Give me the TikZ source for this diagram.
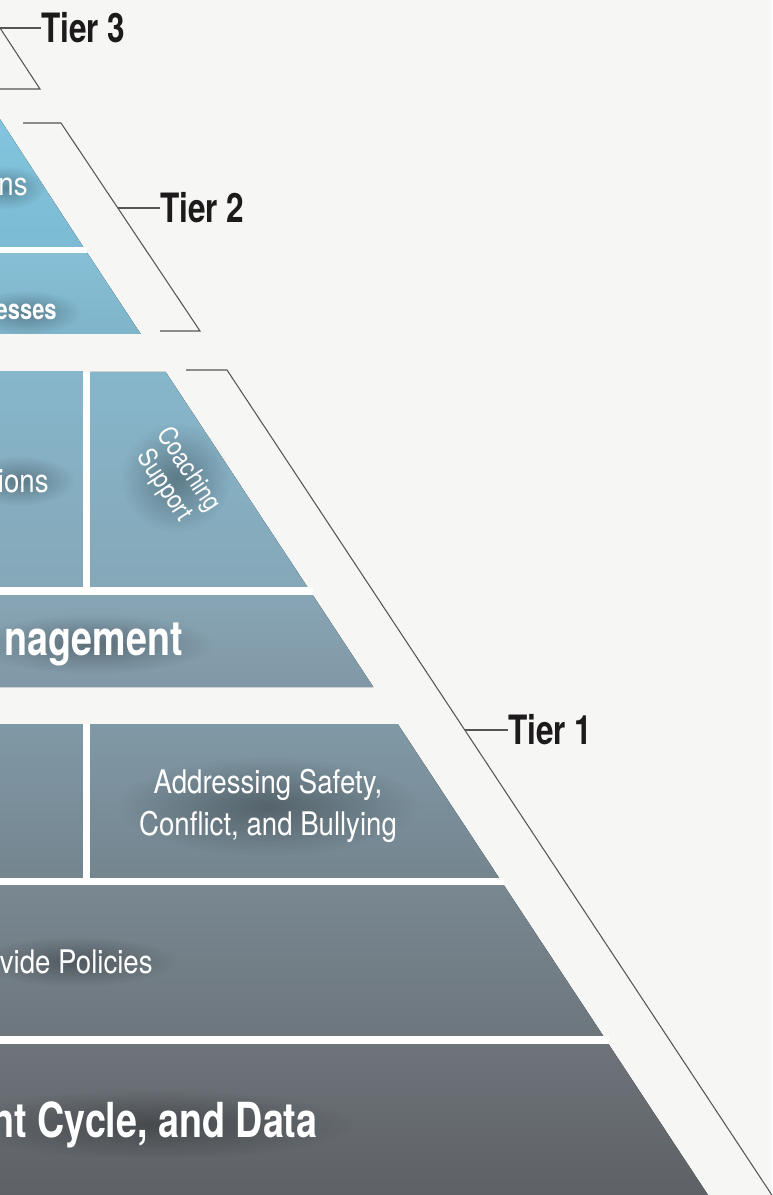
\documentclass[tikz,border=0pt]{standalone}
\usepackage{fontspec}
\setmainfont{TeX Gyre Heros}[FakeStretch=0.85]
\newfontfamily\headfont{TeX Gyre Heros}[FakeStretch=0.78]
\usetikzlibrary{fadings}

\definecolor{bgpage}{HTML}{F6F6F4}
\definecolor{lineink}{HTML}{555555}
\definecolor{tierink}{HTML}{1C1A1B}
\definecolor{aTop}{HTML}{83C6DF}
\definecolor{aBot}{HTML}{7DBBD4}
\definecolor{bTop}{HTML}{86BFD6}
\definecolor{bBot}{HTML}{7FB4CA}
\definecolor{cTop}{HTML}{86B6CB}
\definecolor{cBot}{HTML}{85A8B8}
\definecolor{dTop}{HTML}{87A5B5}
\definecolor{dBot}{HTML}{8198A6}
\definecolor{eTop}{HTML}{8099A6}
\definecolor{eBot}{HTML}{74858F}
\definecolor{fTop}{HTML}{798891}
\definecolor{fBot}{HTML}{6D767D}
\definecolor{gTop}{HTML}{6D747A}
\definecolor{gBot}{HTML}{5E6165}

\tikzfading[name=halofade, inner color=transparent!0, outer color=transparent!100]
\pgfdeclarelayer{base}
\pgfdeclarelayer{glow}
\pgfsetlayers{base,glow,main}

\begin{document}
\begin{tikzpicture}[x=0.02cm, y=-0.02cm,
	layertxt/.style={text=white, inner sep=0pt, font=\fontsize{18.5}{24}\selectfont},
	layerhead/.style={text=white, inner sep=0pt, font=\headfont\bfseries\fontsize{27.5}{30}\selectfont},
	layersub/.style={text=white, inner sep=0pt, font=\headfont\bfseries\fontsize{16}{18}\selectfont},
	tierlbl/.style={text=tierink, inner sep=0pt, anchor=west, font=\headfont\bfseries\fontsize{23}{26}\selectfont},
	bracket/.style={draw=lineink, line width=0.6pt},
	halo/.style={fill=black, opacity=0.3, path fading=halofade},
	sep/.style={fill=white}]

	\useasboundingbox (0,0) rectangle (772,1195);

	\begin{pgfonlayer}{base}
	\fill[bgpage] (0,0) rectangle (772,1195);
	\fill[top color=aTop, bottom color=aBot] (-60,100) -- (-12.5,100) -- (83.3,247) -- (-60,247) -- cycle;
	\fill[top color=bTop, bottom color=bBot] (-60,253) -- (87.3,253) -- (140.7,334) -- (-60,334) -- cycle;
	\fill[top color=cTop, bottom color=cBot] (-60,372) -- (83,372) -- (83,587) -- (-60,587) -- cycle;
	\fill[top color=cTop, bottom color=cBot] (90,372) -- (165.7,372) -- (307.4,587) -- (90,587) -- cycle;
	\fill[top color=dTop, bottom color=dBot] (-60,595) -- (312.7,595) -- (373.3,687) -- (-60,687) -- cycle;
	\fill[top color=eTop, bottom color=eBot] (-60,724) -- (83,724) -- (83,878) -- (-60,878) -- cycle;
	\fill[top color=eTop, bottom color=eBot] (90,724) -- (397.7,724) -- (499.1,878) -- (90,878) -- cycle;
	\fill[top color=fTop, bottom color=fBot] (-60,885) -- (503.7,885) -- (603.3,1036) -- (-60,1036) -- cycle;
	\fill[top color=gTop, bottom color=gBot] (-60,1044) -- (608.5,1044) -- (708,1195) -- (-60,1195) -- cycle;
	\fill[sep] (-60,247) rectangle (87.3,253);
	\fill[sep] (-60,587) rectangle (312.7,595);
	\fill[sep] (83,372) rectangle (90,587);
	\fill[sep] (-60,878) rectangle (503.7,885);
	\fill[sep] (83,724) rectangle (90,878);
	\fill[sep] (-60,1036) rectangle (608.5,1044);
	\end{pgfonlayer}

	\node[layertxt, anchor=base east] (interv) at (28,196) {ons};
	\node[layersub, anchor=base east] (proc) at (57,320) {esses};
	\node[layertxt, anchor=base east] (strat) at (49,492) {tions};
	\node[layertxt, align=center, rotate=-56.6, font=\fontsize{15}{16.5}\selectfont] (coach) at (176,478) {Coaching\\Support};
	\node[layerhead, anchor=base east] (mgmt) at (183,655) {nagement};
	\node[layertxt, align=center] (safety) at (268,806) {Addressing Safety,\\Conflict, and Bullying};
	\node[layertxt, anchor=base east] (policy) at (153,973) {vide Policies};
	\node[layerhead, anchor=base east] (cycle) at (318,1137) {nt Cycle, and Data};

	\begin{pgfonlayer}{glow}
	\fill[halo] (interv.center) ellipse (40 and 22);
	\fill[halo] (proc.center) ellipse (55 and 22);
	\fill[halo] (strat.center) ellipse (55 and 25);
	\fill[halo] (coach.center) ellipse (55 and 55);
	\fill[halo] (mgmt.center) ellipse (120 and 30);
	\fill[halo] (safety.center) ellipse (150 and 50);
	\fill[halo] (policy.center) ellipse (100 and 25);
	\fill[halo] (cycle.center) ellipse (200 and 35);
	\end{pgfonlayer}

	\draw[bracket] (-80,-33) -- (-40,-33) -- (40,89) -- (-80,89);
	\draw[bracket] (23,123) -- (61,123) -- (200,331) -- (160,331);
	\draw[bracket] (186,370) -- (227,370) -- (826,1277) -- (786,1277);

	\node[tierlbl] (tthree) at (41,28) {Tier 3};
	\node[tierlbl] (ttwo) at (160,208) {Tier 2};
	\node[tierlbl] (tone) at (508,730) {Tier 1};
	\coordinate (t3foot) at (0,28);
	\coordinate (t2foot) at (118,208);
	\coordinate (t1foot) at (465,730);
	\draw[bracket] (t3foot) -- (tthree.west);
	\draw[bracket] (t2foot) -- (ttwo.west);
	\draw[bracket] (t1foot) -- (tone.west);
\end{tikzpicture}
\end{document}
